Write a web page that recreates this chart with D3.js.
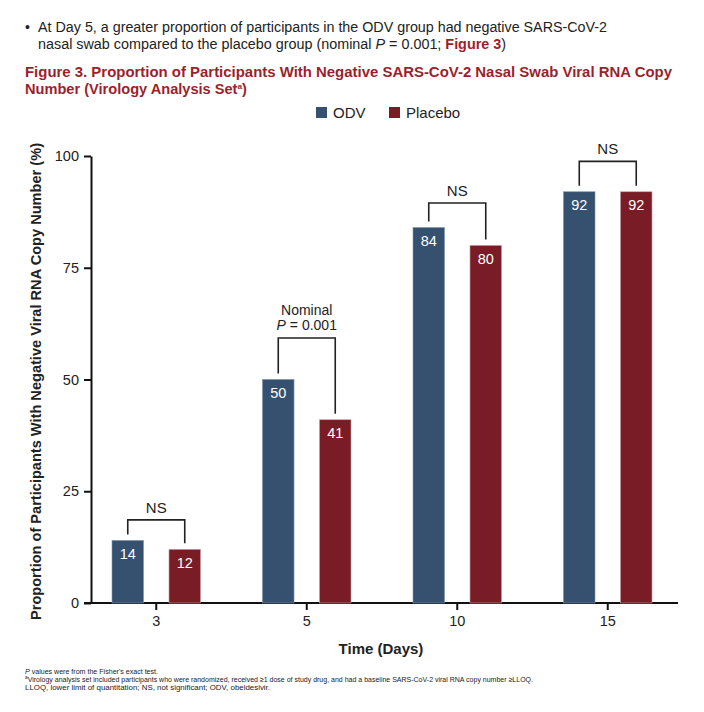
<!DOCTYPE html>
<html>
<head>
<meta charset="utf-8">
<script src="https://cdn.jsdelivr.net/npm/d3@7"></script>
<style>
  body { margin: 0; background: #fff; }
  svg { display: block; font-family: "Liberation Sans", Arial, sans-serif; }
</style>
</head>
<body>
<svg id="chart" width="704" height="712"></svg>
<script>
// ---------- data ----------
const days = ["3", "5", "10", "15"];
const groups = ["ODV", "Placebo"];
const odvValues = [14, 50, 84, 92];
const placeboValues = [12, 41, 80, 92];
const bracketLevels = [18.6, 59.3, 89.5, 98.8];       // bracket height in % units
const bracketLabels = [["NS"], ["Nominal", "P = 0.001"], ["NS"], ["NS"]];
const yTicks = [0, 25, 50, 75, 100];
const colors = { ODV: "#36506f", Placebo: "#7a1c26" };

const svg = d3.select("#chart");
const redTitle = "#9b1f2c";

function fit(sel, target) {
  const w = sel.node().getComputedTextLength();
  if (Math.abs(w - target) > 1) sel.attr("textLength", target).attr("lengthAdjust", "spacingAndGlyphs");
  return sel;
}

// ---------- header text ----------
svg.append("text").attr("x", 25).attr("y", 31.5).attr("font-size", 14).attr("fill", "#222").text("•");
fit(svg.append("text").attr("x", 38).attr("y", 32).attr("font-size", 14).attr("fill", "#222")
  .text("At Day 5, a greater proportion of participants in the ODV group had negative SARS-CoV-2"), 569);
const l2 = svg.append("text").attr("x", 38).attr("y", 48.5).attr("font-size", 14).attr("fill", "#222");
l2.append("tspan").text("nasal swab compared to the placebo group (nominal ");
l2.append("tspan").attr("font-style", "italic").text("P");
l2.append("tspan").text(" = 0.001; ");
l2.append("tspan").attr("font-weight", "bold").attr("fill", redTitle).text("Figure 3");
l2.append("tspan").text(")");
fit(l2, 468);

fit(svg.append("text").attr("x", 25).attr("y", 77).attr("font-size", 14).attr("font-weight", "bold").attr("fill", redTitle)
  .text("Figure 3. Proportion of Participants With Negative SARS-CoV-2 Nasal Swab Viral RNA Copy"), 647);
const t2 = svg.append("text").attr("x", 25).attr("y", 93.5).attr("font-size", 14).attr("font-weight", "bold").attr("fill", redTitle);
t2.append("tspan").text("Number (Virology Analysis Set");
t2.append("tspan").attr("font-size", 8).attr("dy", -5).text("a");
t2.append("tspan").attr("dy", 5).text(")");
fit(t2, 222);

// ---------- scales ----------
const plotLeft = 91, plotBottom = 603, plotTop = 156;
const x = d3.scaleBand().domain(days).range([81, 683]).padding(0);
const x1 = d3.scaleBand().domain(groups).range([-44.25, 44.25]).paddingInner(0.447).paddingOuter(0);
const y = d3.scaleLinear().domain([0, 100]).range([plotBottom, plotTop]);

// ---------- legend ----------
const legendX = [316, 389];
groups.forEach((g, i) => {
  svg.append("rect").attr("x", legendX[i]).attr("y", 107).attr("width", 11).attr("height", 11).attr("fill", colors[g]);
  svg.append("text").attr("x", legendX[i] + 17).attr("y", 118).attr("font-size", 15).attr("fill", "#222").text(g);
});

// ---------- axes ----------
const yAxis = svg.append("g").attr("transform", `translate(${plotLeft},0)`)
  .call(d3.axisLeft(y).tickValues(yTicks).tickSize(7).tickSizeOuter(0).tickPadding(5));
yAxis.select(".domain").attr("stroke", "#111").attr("stroke-width", 2);
yAxis.selectAll(".tick line").attr("stroke", "#111").attr("stroke-width", 2);
yAxis.selectAll(".tick text").attr("font-size", 14.5).attr("fill", "#222").attr("font-family", "Liberation Sans, Arial, sans-serif");

const xAxis = svg.append("g").attr("transform", `translate(0,${plotBottom})`)
  .call(d3.axisBottom(x).tickSize(7).tickSizeOuter(0).tickPadding(6));
xAxis.select(".domain").attr("d", `M${plotLeft - 7},0H678`).attr("stroke", "#111").attr("stroke-width", 2.2);
xAxis.selectAll(".tick line").attr("stroke", "#111").attr("stroke-width", 2);
xAxis.selectAll(".tick text").attr("font-size", 14.5).attr("fill", "#222").attr("font-family", "Liberation Sans, Arial, sans-serif");

// axis titles
fit(svg.append("text").attr("transform", "translate(41,381.5) rotate(-90)").attr("text-anchor", "middle")
  .attr("font-size", 14).attr("font-weight", "bold").attr("fill", "#222")
  .text("Proportion of Participants With Negative Viral RNA Copy Number (%)"), 477);
svg.append("text").attr("x", 381).attr("y", 654).attr("text-anchor", "middle")
  .attr("font-size", 15).attr("font-weight", "bold").attr("fill", "#222").text("Time (Days)");

// ---------- bars ----------
const rows = days.map((d, i) => ({ day: d, ODV: odvValues[i], Placebo: placeboValues[i] }));
const dayG = svg.append("g").selectAll("g").data(rows).join("g")
  .attr("transform", d => `translate(${x(d.day) + x.bandwidth() / 2},0)`);

dayG.selectAll("rect").data(d => groups.map(g => ({ g, v: d[g] }))).join("rect")
  .attr("x", d => x1(d.g)).attr("width", x1.bandwidth())
  .attr("y", d => y(d.v)).attr("height", d => y(0) - y(d.v))
  .attr("fill", d => colors[d.g])
  .attr("stroke", d => d.g === "ODV" ? "#7f93ab" : "#c9a0a5").attr("stroke-width", 0.6);

dayG.selectAll("text.val").data(d => groups.map(g => ({ g, v: d[g] }))).join("text")
  .attr("class", "val")
  .attr("x", d => x1(d.g) + x1.bandwidth() / 2).attr("y", d => y(d.v) + 18.5)
  .attr("text-anchor", "middle").attr("font-size", 14.5).attr("fill", "#fff")
  .text(d => d3.format("d")(d.v));

// ---------- significance brackets ----------
const bracket = svg.append("g");
rows.forEach((r, i) => {
  const cx = x(r.day) + x.bandwidth() / 2;
  const xl = cx + x1("ODV") + x1.bandwidth() / 2;
  const xr = cx + x1("Placebo") + x1.bandwidth() / 2;
  const yl = y(r.ODV) - 6, yr = y(r.Placebo) - 6, yb = y(bracketLevels[i]);
  bracket.append("path")
    .attr("d", d3.line()([[xl, yl], [xl, yb], [xr, yb], [xr, yr]]))
    .attr("fill", "none").attr("stroke", "#222").attr("stroke-width", 1.6);
  const lbl = bracketLabels[i];
  const midX = (xl + xr) / 2;
  if (lbl.length === 1) {
    svg.append("text").attr("x", midX).attr("y", yb - 7).attr("text-anchor", "middle")
      .attr("font-size", 15).attr("fill", "#222").text(lbl[0]);
  } else {
    svg.append("text").attr("x", midX).attr("y", yb - 22.5).attr("text-anchor", "middle")
      .attr("font-size", 14).attr("fill", "#222").text(lbl[0]);
    const p = svg.append("text").attr("x", midX).attr("y", yb - 8).attr("text-anchor", "middle")
      .attr("font-size", 14).attr("fill", "#222");
    p.append("tspan").attr("font-style", "italic").text("P");
    p.append("tspan").text(lbl[1].slice(1));
  }
});

// ---------- footnotes ----------
const f1 = svg.append("text").attr("x", 25).attr("y", 673.5).attr("font-size", 7.3).attr("fill", "#222");
f1.append("tspan").attr("font-style", "italic").text("P");
f1.append("tspan").text(" values were from the Fisher's exact test.");
fit(f1, 133);
const f2 = svg.append("text").attr("x", 25).attr("y", 681.5).attr("font-size", 7.3).attr("fill", "#222");
f2.append("tspan").attr("font-size", 5).attr("dy", -2.5).text("a");
f2.append("tspan").attr("dy", 2.5).text("Virology analysis set included participants who were randomized, received ≥1 dose of study drug, and had a baseline SARS-CoV-2 viral RNA copy number ≥LLOQ.");
fit(f2, 508);
fit(svg.append("text").attr("x", 25).attr("y", 689.5).attr("font-size", 7.3).attr("fill", "#222")
  .text("LLOQ, lower limit of quantitation; NS, not significant; ODV, obeldesivir."), 245);
</script>
</body>
</html>
